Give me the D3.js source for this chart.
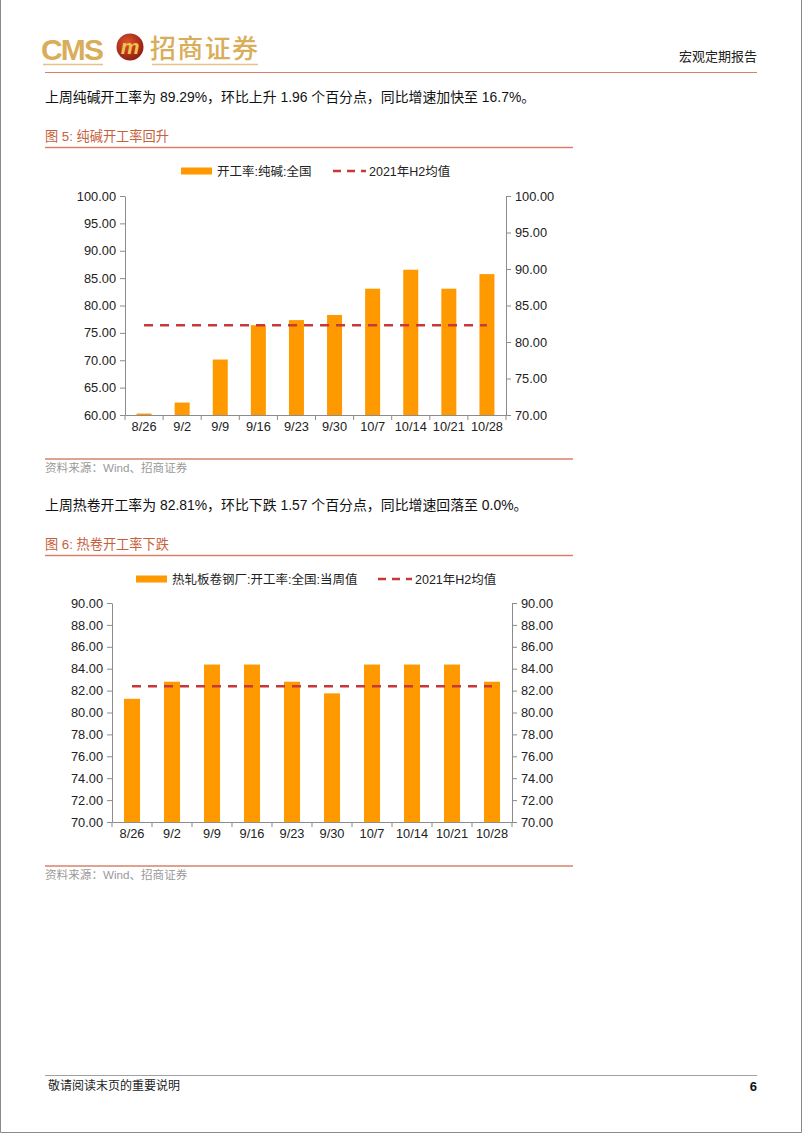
<!DOCTYPE html>
<html><head><meta charset="utf-8">
<script src="https://cdn.jsdelivr.net/npm/d3@7"></script>
<style>
html,body{margin:0;padding:0;background:#fff;}
svg{display:block;}
text{font-family:"Liberation Sans",Arial,"Noto Sans CJK SC",sans-serif;}
</style></head>
<body>
<svg id="page" width="802" height="1133"></svg>
<script>
// ---------- data ----------
const categories = ["8/26","9/2","9/9","9/16","9/23","9/30","10/7","10/14","10/21","10/28"];
const sodaAshRate = [70.2, 71.7, 77.6, 82.3, 83.0, 83.7, 87.3, 89.9, 87.3, 89.3];
const sodaAshH2Avg = 82.3;
const sodaLeftTicks = [60,65,70,75,80,85,90,95,100];
const sodaRightTicks = [70,75,80,85,90,95,100];
const hrcRate = [81.25, 82.81, 84.38, 84.38, 82.81, 81.75, 84.38, 84.38, 84.38, 82.81];
const hrcH2Avg = 82.4;
const hrcTicks = [70,72,74,76,78,80,82,84,86,88,90];

const svg = d3.select("#page");
const CJK = '"Liberation Sans",Arial,"Noto Sans CJK SC",sans-serif';
const BAR = "#ff9900", DASH = "#c8373a", TITLE = "#c5623d", RULE = "#d9806a";

// page border
svg.append("path").attr("d","M0.5,0 V1132.5 H801.5 V0").attr("fill","none").attr("stroke","#8a8a8a").attr("stroke-width",1);

// ---------- header ----------
svg.append("text").attr("x",41).attr("y",60).text("CMS")
  .attr("font-size",30).attr("font-weight","bold").attr("fill","#d8ae5a")
  .attr("font-family",'"Open Sans","Liberation Sans",sans-serif').attr("textLength",63);
const grad = svg.append("defs").append("radialGradient").attr("id","emb").attr("cx","40%").attr("cy","35%").attr("r","70%");
grad.append("stop").attr("offset","0%").attr("stop-color","#e0542c");
grad.append("stop").attr("offset","100%").attr("stop-color","#8a1c10");
svg.append("circle").attr("cx",130).attr("cy",47).attr("r",13.5).attr("fill","url(#emb)");
svg.append("text").attr("x",130).attr("y",54).attr("text-anchor","middle").text("m")
  .attr("font-size",21).attr("font-weight","bold").attr("font-style","italic").attr("fill","#f2c14e");
svg.append("text").attr("x",150).attr("y",58).text("招商证券")
  .attr("font-size",26).attr("font-weight",500).attr("fill","#d8ae5a")
  .attr("font-family",'"Noto Sans CJK SC",sans-serif').attr("textLength",108);
svg.append("line").attr("x1",43).attr("x2",103).attr("y1",64.5).attr("y2",64.5).attr("stroke","#e0c48a").attr("stroke-width",1.5);
svg.append("line").attr("x1",152).attr("x2",258).attr("y1",64.5).attr("y2",64.5).attr("stroke","#e0c48a").attr("stroke-width",1.5);
svg.append("text").attr("x",757).attr("y",61).attr("text-anchor","end").text("宏观定期报告")
  .attr("font-size",13).attr("fill","#222").attr("font-family",'"Noto Sans CJK SC",sans-serif');
svg.append("line").attr("x1",45).attr("x2",757).attr("y1",72.5).attr("y2",72.5).attr("stroke","#d9806a").attr("stroke-width",1.2);

// ---------- helpers ----------
function para(y, txt){
  svg.append("text").attr("x",45).attr("y",y).text(txt).attr("font-size",13.9).attr("fill","#111");
}
function figTitle(y, txt){
  svg.append("text").attr("x",45).attr("y",y).text(txt).attr("font-size",13.2).attr("fill",TITLE);
  svg.append("line").attr("x1",45).attr("x2",573).attr("y1",y+6.5).attr("y2",y+6.5).attr("stroke",RULE).attr("stroke-width",1.5);
}
function source(y){
  svg.append("line").attr("x1",45).attr("x2",573).attr("y1",y).attr("y2",y).attr("stroke",RULE).attr("stroke-width",1.5);
  svg.append("text").attr("x",45).attr("y",y+13).text("资料来源：Wind、招商证券").attr("font-size",11.6).attr("fill","#9a9a9a");
}
function legend(y, sx, tx1, label1, dx, tx2){
  svg.append("rect").attr("x",sx).attr("y",y-3.5).attr("width",tx1-sx-5).attr("height",7).attr("fill",BAR);
  svg.append("text").attr("x",tx1).attr("y",y+4.5).text(label1).attr("font-size",12.5).attr("fill","#222");
  svg.append("line").attr("x1",dx).attr("x2",tx2-3).attr("y1",y).attr("y2",y).attr("stroke",DASH).attr("stroke-width",2.5).attr("stroke-dasharray","8,6");
  svg.append("text").attr("x",tx2).attr("y",y+4.5).text("2021年H2均值").attr("font-size",12.5).attr("fill","#222");
}
function chart(o){
  const xb = d3.scaleBand().domain(categories).range([o.x0,o.x1]);
  const yL = d3.scaleLinear().domain(o.leftDom).range([o.yb,o.yt]);
  const yR = d3.scaleLinear().domain(o.rightDom).range([o.yb,o.yt]);
  const g = svg.append("g");
  // bars (on right axis)
  g.selectAll("rect.bar").data(o.values).join("rect")
    .attr("x",(d,i)=>xb(categories[i])+xb.bandwidth()/2-o.bw/2)
    .attr("width",o.bw)
    .attr("y",d=>yR(d)).attr("height",d=>yR(o.rightDom[0])-yR(d)).attr("fill",BAR);
  // dashed avg line
  const line = d3.line().x(d=>xb(d)+xb.bandwidth()/2).y(()=>yR(o.avg));
  g.append("path").attr("d",line(categories)).attr("fill","none").attr("stroke",DASH)
    .attr("stroke-width",2.5).attr("stroke-dasharray","9,7");
  // axes
  const axStyle = s=>{ s.select(".domain").attr("stroke","#8c8c8c");
    s.selectAll(".tick line").attr("stroke","#8c8c8c");
    s.selectAll("text").attr("font-size",12.8).attr("fill","#222").attr("font-family",CJK); };
  g.append("g").attr("transform",`translate(${o.x0},0)`)
    .call(d3.axisLeft(yL).tickValues(o.leftTicks).tickFormat(d3.format(".2f")).tickSize(5).tickSizeOuter(0).tickPadding(4))
    .call(axStyle);
  g.append("g").attr("transform",`translate(${o.x1},0)`)
    .call(d3.axisRight(yR).tickValues(o.rightTicks).tickFormat(d3.format(".2f")).tickSize(5).tickSizeOuter(0).tickPadding(4))
    .call(axStyle);
  g.append("g").attr("transform",`translate(0,${o.yb})`)
    .call(d3.axisBottom(xb).tickSize(0).tickPadding(7).tickSizeOuter(0)).call(axStyle);
  // tick marks at band boundaries
  g.selectAll("line.xt").data(d3.range(categories.length+1)).join("line")
    .attr("x1",i=>o.x0+i*xb.step()).attr("x2",i=>o.x0+i*xb.step())
    .attr("y1",o.yb).attr("y2",o.yb+5).attr("stroke","#8c8c8c");
}

// ---------- section 1 ----------
para(102, "上周纯碱开工率为 89.29%，环比上升 1.96 个百分点，同比增速加快至 16.7%。");
figTitle(141, "图 5:  纯碱开工率回升");
legend(171, 181, 217, "开工率:纯碱:全国", 333, 369);
chart({x0:125, x1:506, yt:196, yb:415, leftDom:[60,100], rightDom:[70,100],
  leftTicks:sodaLeftTicks, rightTicks:sodaRightTicks, values:sodaAshRate, avg:sodaAshH2Avg, bw:15});
source(459);

// ---------- section 2 ----------
para(510, "上周热卷开工率为 82.81%，环比下跌 1.57 个百分点，同比增速回落至 0.0%。");
figTitle(549, "图 6:  热卷开工率下跌");
legend(579, 136, 172, "热轧板卷钢厂:开工率:全国:当周值", 378, 415);
chart({x0:112, x1:512, yt:603, yb:822, leftDom:[70,90], rightDom:[70,90],
  leftTicks:hrcTicks, rightTicks:hrcTicks, values:hrcRate, avg:hrcH2Avg, bw:16});
source(866);

// ---------- footer ----------
svg.append("line").attr("x1",45).attr("x2",757).attr("y1",1075.5).attr("y2",1075.5).attr("stroke","#a0a0a0").attr("stroke-width",1);
svg.append("text").attr("x",48).attr("y",1090).text("敬请阅读末页的重要说明").attr("font-size",12).attr("fill","#222");
svg.append("text").attr("x",757).attr("y",1091).attr("text-anchor","end").text("6").attr("font-size",13).attr("font-weight","bold").attr("fill","#111");
</script>
</body></html>
